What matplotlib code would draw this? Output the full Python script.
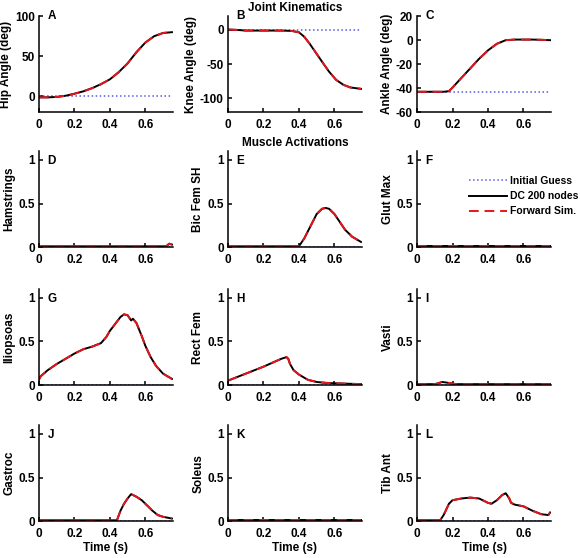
import matplotlib.pyplot as plt
import numpy as np

plt.rcParams['font.family'] = ['Liberation Sans', 'DejaVu Sans']
plt.rcParams['font.weight'] = 'bold'
plt.rcParams['axes.labelweight'] = 'bold'
plt.rcParams['axes.titleweight'] = 'bold'
plt.rcParams['font.size'] = 8

# joint kinematics (deg)
hip_t = [0, 0.05, 0.1, 0.15, 0.2, 0.25, 0.3, 0.35, 0.4, 0.45, 0.5, 0.55, 0.6, 0.65, 0.7, 0.75]
hip_y = [-1.5, -1.5, -1, 0.5, 3, 6, 10, 15, 21, 30, 41, 55, 67, 75, 79, 80]
knee_t = [0, 0.05, 0.1, 0.2, 0.3, 0.36, 0.4, 0.43, 0.46, 0.5, 0.54, 0.57, 0.61, 0.65, 0.69, 0.75]
knee_y = [0.5, 0, -1, -1, -1, -1.5, -3.5, -10, -20, -35, -50, -61, -73, -80, -84, -86]
ankle_t = [0, 0.05, 0.1, 0.15, 0.18, 0.2, 0.25, 0.3, 0.35, 0.4, 0.45, 0.5, 0.55, 0.6, 0.65, 0.7, 0.75]
ankle_y = [-43, -43, -43, -43, -42.5, -39.5, -31.5, -23.5, -15.5, -8.5, -3, 0, 0.5, 0.5, 0.5, 0.3, 0]
guess_kin = [0, 0, -43]

# muscle activations
ham_t = [0, 0.7, 0.72, 0.735, 0.75]
ham_y = [0.01, 0.01, 0.015, 0.04, 0.03]
bfsh_t = [0, 0.4, 0.43, 0.46, 0.5, 0.53, 0.55, 0.57, 0.6, 0.63, 0.66, 0.7, 0.75]
bfsh_y = [0.01, 0.01, 0.1, 0.22, 0.38, 0.44, 0.45, 0.44, 0.38, 0.29, 0.2, 0.12, 0.06]
glut_t = [0, 0.75]
glut_y = [0.01, 0.01]
ilio_t = [0, 0.01, 0.05, 0.1, 0.15, 0.2, 0.25, 0.3, 0.35, 0.38, 0.4, 0.43, 0.46, 0.48, 0.5,
          0.51, 0.52, 0.53, 0.55, 0.58, 0.6, 0.63, 0.66, 0.7, 0.75]
ilio_y = [0.06, 0.1, 0.17, 0.24, 0.3, 0.36, 0.41, 0.44, 0.48, 0.55, 0.62, 0.7, 0.78, 0.81, 0.80,
          0.77, 0.74, 0.76, 0.71, 0.56, 0.45, 0.32, 0.22, 0.13, 0.07]
rf_t = [0, 0.1, 0.2, 0.3, 0.33, 0.34, 0.35, 0.37, 0.4, 0.45, 0.5, 0.55, 0.6, 0.75]
rf_y = [0.05, 0.13, 0.21, 0.30, 0.32, 0.30, 0.24, 0.17, 0.12, 0.06, 0.035, 0.025, 0.02, 0.01]
vas_t = [0, 0.1, 0.12, 0.14, 0.16, 0.19, 0.22, 0.75]
vas_y = [0.01, 0.01, 0.02, 0.035, 0.03, 0.02, 0.01, 0.01]
gas_t = [0, 0.44, 0.46, 0.48, 0.5, 0.52, 0.55, 0.58, 0.61, 0.64, 0.67, 0.7, 0.75]
gas_y = [0.01, 0.01, 0.12, 0.2, 0.26, 0.31, 0.28, 0.24, 0.18, 0.12, 0.07, 0.05, 0.03]
sol_t = [0, 0.75]
sol_y = [0.01, 0.01]
ta_t = [0, 0.13, 0.15, 0.18, 0.2, 0.25, 0.3, 0.35, 0.4, 0.42, 0.45, 0.48, 0.5, 0.52, 0.53,
        0.55, 0.6, 0.65, 0.7, 0.74, 0.75]
ta_y = [0.01, 0.01, 0.07, 0.2, 0.24, 0.26, 0.27, 0.26, 0.21, 0.2, 0.24, 0.3, 0.32, 0.26, 0.21,
        0.19, 0.17, 0.12, 0.08, 0.07, 0.1]

kin_labels = ['Hip Angle (deg)', 'Knee Angle (deg)', 'Ankle Angle (deg)']
kin_ylims = [(-20, 100), (-120, 20), (-60, 20)]
kin_yticks = [[0, 50, 100], [-100, -50, 0], [-60, -40, -20, 0, 20]]
kin_data = [(hip_t, hip_y), (knee_t, knee_y), (ankle_t, ankle_y)]

act_labels = ['Hamstrings', 'Bic Fem SH', 'Glut Max', 'Iliopsoas', 'Rect Fem', 'Vasti',
              'Gastroc', 'Soleus', 'Tib Ant']
act_data = [(ham_t, ham_y), (bfsh_t, bfsh_y), (glut_t, glut_y), (ilio_t, ilio_y), (rf_t, rf_y),
            (vas_t, vas_y), (gas_t, gas_y), (sol_t, sol_y), (ta_t, ta_y)]
letters = 'ABCDEFGHIJKL'

guess_col = '#5a5ae6'
fig = plt.figure(figsize=(5.8, 5.58), dpi=100)

lefts = [0.067, 0.393, 0.719]
bottoms = [0.799, 0.557, 0.310, 0.066]
w, h = 0.231, 0.172

def style(ax):
    for s in ['top', 'right']:
        ax.spines[s].set_visible(False)
    for s in ['left', 'bottom']:
        ax.spines[s].set_linewidth(1.1)
    ax.tick_params(direction='in', length=3, width=1.1, pad=3, labelsize=8.5)
    ax.tick_params(axis='x', pad=5)
    ax.set_xlim(0, 0.755)
    ax.set_xticks([0, 0.2, 0.4, 0.6])
    ax.set_xticklabels(['0', '0.2', '0.4', '0.6'], fontweight='bold')

def draw(ax, t, y, g):
    ax.plot([0, 0.75], [g, g], ':', color=guess_col, lw=1.1, label='Initial Guess')
    ax.plot(t, y, '-', color='k', lw=1.4, label='DC 200 nodes')
    ax.plot(t, y, '--', color='#e8141c', lw=1.4, dashes=(5, 3), label='Forward Sim.')

axes = []
for i in range(12):
    r, c = i // 3, i % 3
    ax = fig.add_axes([lefts[c], bottoms[r], w, h])
    style(ax)
    if r == 0:
        t, y = kin_data[c]
        draw(ax, t, y, guess_kin[c])
        ax.set_ylim(*kin_ylims[c])
        ax.set_yticks(kin_yticks[c])
        ax.set_yticklabels([str(v) for v in kin_yticks[c]], fontweight='bold')
        ax.set_ylabel(kin_labels[c], labelpad=2, fontsize=8.5, fontweight='bold')
        ax.text(0.065, 1.0, letters[i], transform=ax.transAxes, ha='left', va='center',
                fontsize=8.5, fontweight='bold')
    else:
        t, y = act_data[i - 3]
        draw(ax, t, y, 0)
        ax.set_ylim(0, 1.1)
        ax.set_yticks([0, 0.5, 1])
        ax.set_yticklabels(['0', '0.5', '1'], fontweight='bold')
        ax.set_ylabel(act_labels[i - 3], labelpad=2, fontsize=8.5, fontweight='bold')
        ax.text(0.065, 0.9, letters[i], transform=ax.transAxes, ha='left', va='center',
                fontsize=8.5, fontweight='bold')
    if r == 3:
        ax.set_xlabel('Time (s)', labelpad=1, fontsize=8.5, fontweight='bold')
    axes.append(ax)

axes[1].set_title('Joint Kinematics', fontsize=8.5, fontweight='bold', pad=4)
axes[4].set_title('Muscle Activations', fontsize=8.5, fontweight='bold', pad=4)

handles, labels = axes[5].get_legend_handles_labels()
fig.legend(handles, labels, loc='upper left', bbox_to_anchor=(0.8, 0.694), frameon=False,
           handlelength=3.6, handletextpad=0.35, labelspacing=0.5, borderpad=0,
           prop={'size': 7.5, 'weight': 'bold'})

fig.savefig('out.png', dpi=100)
